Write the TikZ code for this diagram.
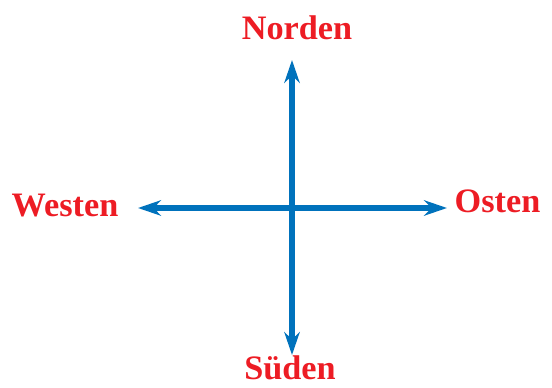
\documentclass[tikz,border=0pt]{standalone}
\usepackage{fontspec}
\setmainfont{Liberation Serif}
\usetikzlibrary{arrows.meta}
\definecolor{dirred}{RGB}{237,28,36}
\definecolor{axisblue}{RGB}{0,114,188}

\begin{document}
\begin{tikzpicture}[
  x=1cm,
  y=1cm,
  >={Stealth[length=4.6mm,width=3.1mm]},
  axis/.style={draw=axisblue, fill=axisblue, line width=3.2pt, <->},
  dirlbl/.style={text=dirred, font=\fontsize{19.5}{22}\selectfont\bfseries, inner sep=0pt, anchor=base},
]
  \useasboundingbox (0,0) rectangle (11.04,7.74);

  % tips of the two axes
  \coordinate (tipN) at (5.84,6.54);
  \coordinate (tipS) at (5.84,0.64);
  \coordinate (tipW) at (2.76,3.58);
  \coordinate (tipE) at (8.94,3.58);

  \draw[axis] (tipS) -- (tipN);
  \draw[axis] (tipW) -- (tipE);

  % directions
  \node[dirlbl] (nord) at (5.94,6.94) {Norden};
  \node[dirlbl] (sued) at (5.80,0.15) {Süden};
  \node[dirlbl] (west) at (1.30,3.40) {Westen};
  \node[dirlbl] (ost)  at (9.95,3.48) {Osten};
\end{tikzpicture}
\end{document}
